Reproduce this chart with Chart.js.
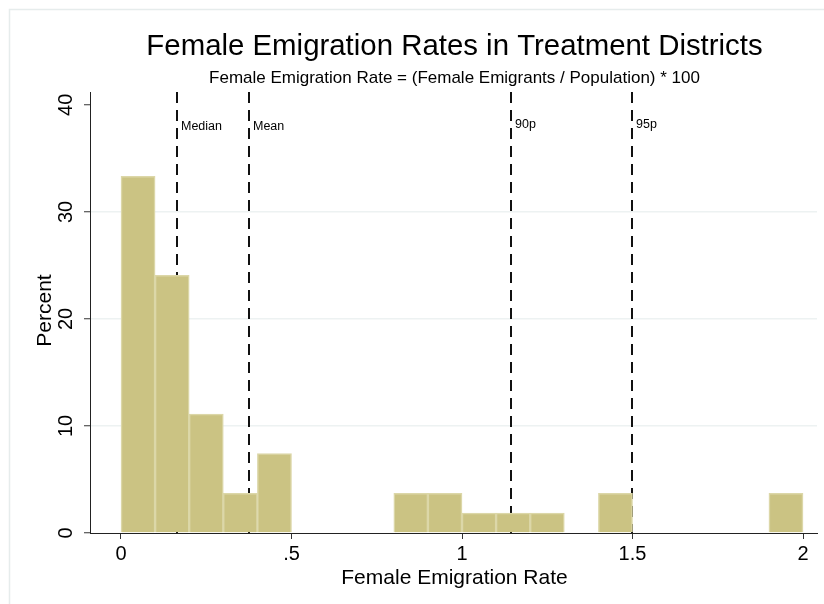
<!DOCTYPE html>
<html>
<head>
<meta charset="utf-8">
<script src="https://cdn.jsdelivr.net/npm/chart.js@4.4.1/dist/chart.umd.min.js"></script>
<style>
  body { margin: 0; background: #fff; }
  #wrap { width: 824px; height: 604px; position: relative; }
</style>
</head>
<body>
<div id="wrap"><canvas id="hist"></canvas></div>
<script>
// histogram bins (width 0.1), percent of districts
const binCenters = [0.05, 0.15, 0.25, 0.35, 0.45, 0.85, 0.95, 1.05, 1.15, 1.25, 1.45, 1.95];
const percents = [33.33, 24.07, 11.11, 3.70, 7.41, 3.70, 3.70, 1.85, 1.85, 1.85, 3.70, 3.70];

const xTickValues = [0, 0.5, 1, 1.5, 2];
const xTickLabels = ['0', '.5', '1', '1.5', '2'];
const yTickValues = [0, 10, 20, 30, 40];
const yTickLabels = ['0', '10', '20', '30', '40'];

const refValues = [0.164, 0.375, 1.144, 1.498];
const refLabels = ['Median', 'Mean', '90p', '95p'];

const FONT = '"Liberation Sans", Arial, sans-serif';

const annot = {
    id: 'annot',
    beforeDraw(chart) {
        const ctx = chart.ctx;
        ctx.save();
        ctx.strokeStyle = '#e6ecec';
        ctx.lineWidth = 1.5;
        ctx.strokeRect(9.5, 9.5, 900, 700);
        ctx.restore();
    },
    beforeDatasetsDraw(chart) {
        const ctx = chart.ctx;
        const area = chart.chartArea;
        const xs = chart.scales.x;
        ctx.save();
        ctx.strokeStyle = '#111';
        ctx.lineWidth = 2;
        ctx.setLineDash([11, 7]);
        ctx.font = '12.5px ' + FONT;
        ctx.fillStyle = '#000';
        ctx.textBaseline = 'middle';
        refValues.forEach((v, i) => {
            const px = Math.round(xs.getPixelForValue(v));
            ctx.beginPath();
            ctx.moveTo(px, area.top);
            ctx.lineTo(px, area.bottom);
            ctx.stroke();
            ctx.fillText(refLabels[i], px + 4, i < 2 ? 127 : 125);
        });
        ctx.restore();
    },
    afterDraw(chart) {
        const ctx = chart.ctx;
        const area = chart.chartArea;
        const ys = chart.scales.y;
        const cx = (area.left + area.right) / 2 + 1;
        ctx.save();
        ctx.fillStyle = '#000';
        ctx.textAlign = 'center';
        ctx.textBaseline = 'middle';
        ctx.font = '29.4px ' + FONT;
        ctx.fillText('Female Emigration Rates in Treatment Districts', cx, 47);
        ctx.font = '17px ' + FONT;
        ctx.fillText('Female Emigration Rate = (Female Emigrants / Population) * 100', cx, 78);
        ctx.font = '21px ' + FONT;
        ctx.fillText('Female Emigration Rate', cx, 578);

        // rotated y tick labels and title
        ctx.font = '20px ' + FONT;
        yTickValues.forEach((v, i) => {
            ctx.save();
            ctx.translate(66, ys.getPixelForValue(v));
            ctx.rotate(-Math.PI / 2);
            ctx.fillText(yTickLabels[i], 0, 0);
            ctx.restore();
        });
        ctx.font = '21px ' + FONT;
        ctx.translate(45, (area.top + area.bottom) / 2 - 2);
        ctx.rotate(-Math.PI / 2);
        ctx.fillText('Percent', 0, 0);
        ctx.restore();
    }
};

new Chart(document.getElementById('hist'), {
    type: 'bar',
    data: {
        datasets: [{
            data: binCenters.map((c, i) => ({ x: c, y: percents[i] })),
            backgroundColor: '#cbc383',
            borderColor: '#dcd7a8',
            borderWidth: 1.5,
            barPercentage: 1,
            categoryPercentage: 1
        }]
    },
    options: {
        responsive: true,
        maintainAspectRatio: false,
        animation: false,
        layout: { padding: { top: 92, right: 7, left: 0, bottom: 0 } },
        plugins: {
            legend: { display: false },
            tooltip: { enabled: false }
        },
        scales: {
            x: {
                type: 'linear',
                offset: false,
                min: -0.0909,
                max: 2.041,
                afterBuildTicks: s => { s.ticks = xTickValues.map(v => ({ value: v })); },
                afterFit: s => { s.height = 71; },
                grid: { display: true, offset: false, drawOnChartArea: false, drawTicks: true, tickLength: 6, tickColor: '#333' },
                border: { display: true, color: '#222', width: 1 },
                ticks: {
                    color: '#000',
                    font: { family: FONT, size: 20 },
                    padding: 3,
                    maxRotation: 0,
                    callback: v => xTickLabels[xTickValues.indexOf(v)]
                }
            },
            y: {
                min: 0,
                max: 41.2,
                afterBuildTicks: s => { s.ticks = yTickValues.map(v => ({ value: v })); },
                afterFit: s => { s.width = 90; },
                grid: {
                    color: c => (c.tick && (c.tick.value === 0 || c.tick.value === 40)) ? 'rgba(0,0,0,0)' : '#edf2f2',
                    lineWidth: 1.5,
                    tickLength: 6,
                    tickColor: '#333',
                    tickWidth: 1
                },
                border: { display: true, color: '#222', width: 1 },
                ticks: { display: false }
            }
        }
    },
    plugins: [annot]
});
</script>
</body>
</html>
